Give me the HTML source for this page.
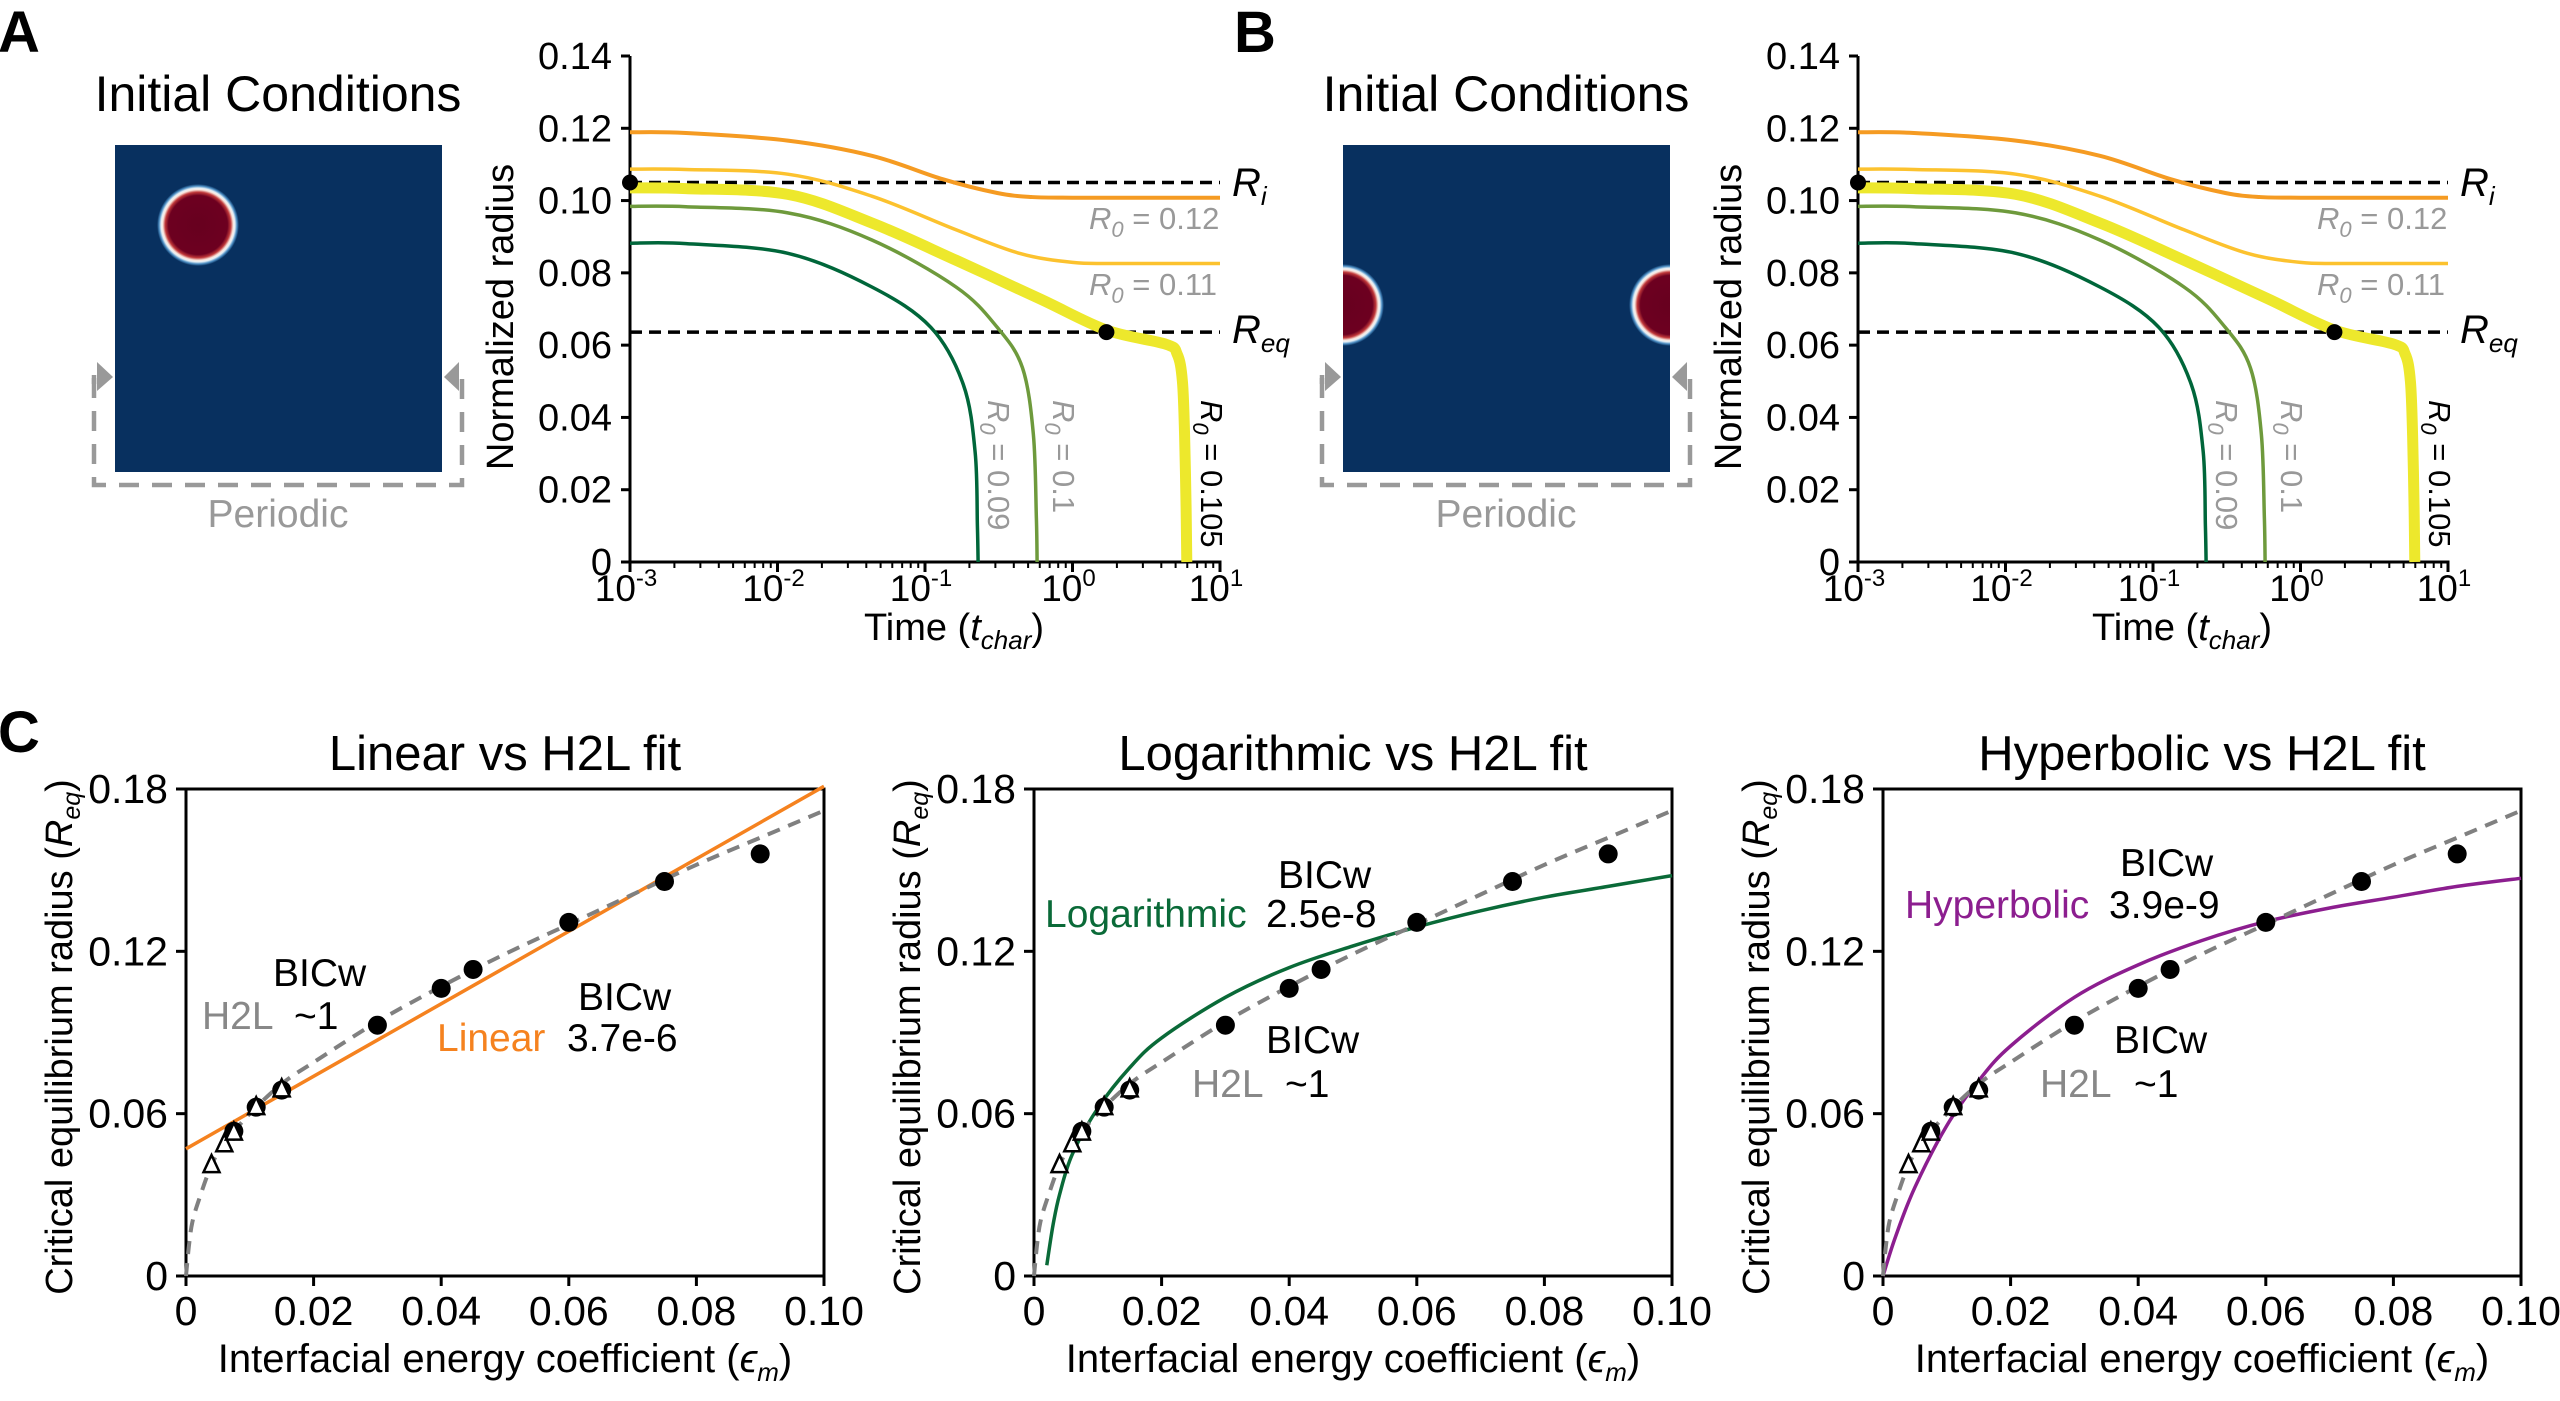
<!DOCTYPE html>
<html><head><meta charset="utf-8"><style>
html,body{margin:0;padding:0;background:#fff;}
svg{display:block;font-family:"Liberation Sans",Arial,sans-serif;}
</style></head><body>
<svg id="fig" width="2560" height="1401" viewBox="0 0 2560 1401" xmlns="http://www.w3.org/2000/svg">
<defs>
<radialGradient id="blob" cx="0.5" cy="0.5" r="0.5">
<stop offset="0" stop-color="#67001f"/>
<stop offset="0.72" stop-color="#6d0020"/>
<stop offset="0.8" stop-color="#c0383a"/>
<stop offset="0.86" stop-color="#fbe6dc"/>
<stop offset="0.9" stop-color="#e6f0f7"/>
<stop offset="0.95" stop-color="#4a8cc2"/>
<stop offset="1" stop-color="#08305f"/>
</radialGradient>
</defs>
<g id="root"></g>
</svg>
<script>
// ---------- Panel A/B data ----------
const yTicksA = [0, 0.02, 0.04, 0.06, 0.08, 0.10, 0.12, 0.14];
const yTickLabelsA = ["0", "0.02", "0.04", "0.06", "0.08", "0.10", "0.12", "0.14"];
const xDecadesA = [-3, -2, -1, 0, 1];
const riValue = 0.105;
const reqValue = 0.0636;
const reqDotLogT = 0.23;
const orangeT = [-3, -2.62, -1.93, -1.36, -0.88, -0.51, -0.28, 0, 1];
const orangeR = [0.1189, 0.1187, 0.1166, 0.1124, 0.1059, 0.1021, 0.1010, 0.1008, 0.1008];
const lightT = [-3, -2.62, -1.93, -1.36, -0.79, -0.36, 0, 0.3, 1];
const lightR = [0.1087, 0.1086, 0.1073, 0.1012, 0.0919, 0.0854, 0.0829, 0.0826, 0.0826];
const thickT = [-3, -2.62, -1.93, -1.36, -0.79, -0.22, 0.23, 0.63, 0.71, 0.745, 0.76, 0.77, 0.775];
const thickR = [0.1035, 0.1033, 0.1017, 0.0938, 0.0835, 0.0728, 0.0642, 0.0603, 0.0575, 0.050, 0.035, 0.015, 0];
const oliveT = [-3, -2.62, -1.93, -1.36, -0.79, -0.51, -0.34, -0.265, -0.245, -0.24];
const oliveR = [0.0984, 0.0983, 0.0966, 0.0891, 0.0761, 0.0649, 0.0538, 0.0352, 0.012, 0];
const greenT = [-3, -2.62, -1.93, -1.36, -0.96, -0.74, -0.66, -0.645, -0.64];
const greenR = [0.0882, 0.0881, 0.0854, 0.0761, 0.0649, 0.0491, 0.0305, 0.010, 0];

// ---------- Panel C data ----------
const yTicksC = [0, 0.06, 0.12, 0.18];
const yTickLabelsC = ["0", "0.06", "0.12", "0.18"];
const xTicksC = [0, 0.02, 0.04, 0.06, 0.08, 0.10];
const xTickLabelsC = ["0", "0.02", "0.04", "0.06", "0.08", "0.10"];
const circEps = [0.0075, 0.011, 0.015, 0.03, 0.04, 0.045, 0.06, 0.075, 0.09];
const circR = [0.0535, 0.0624, 0.0687, 0.0927, 0.1063, 0.1133, 0.1307, 0.1458, 0.156];
const triEps = [0.004, 0.006, 0.0075, 0.011, 0.015];
const triR = [0.041, 0.0487, 0.053, 0.0624, 0.069];
const h2lEps = [0, 0.0005, 0.001, 0.002, 0.004, 0.006, 0.01, 0.015, 0.02, 0.03, 0.04, 0.05, 0.06, 0.07, 0.08, 0.09, 0.1];
const h2lR = [0, 0.012, 0.02, 0.028, 0.041, 0.049, 0.06, 0.071, 0.079, 0.094, 0.107, 0.119, 0.13, 0.141, 0.152, 0.162, 0.172];
const linEps = [0, 0.1];
const linR = [0.047, 0.181];
const logEps = [0.002, 0.003, 0.004, 0.006, 0.01, 0.015, 0.02, 0.03, 0.04, 0.05, 0.06, 0.07, 0.08, 0.09, 0.1];
const logR = [0.004, 0.019, 0.030, 0.045, 0.062, 0.077, 0.088, 0.103, 0.114, 0.122, 0.129, 0.135, 0.140, 0.144, 0.148];
const hypEps = [0, 0.002, 0.005, 0.01, 0.015, 0.02, 0.03, 0.04, 0.05, 0.06, 0.07, 0.08, 0.09, 0.1];
const hypR = [0, 0.0148, 0.0328, 0.0556, 0.0722, 0.085, 0.103, 0.115, 0.124, 0.131, 0.136, 0.140, 0.144, 0.147];

const NS = "http://www.w3.org/2000/svg";
const root = document.getElementById("root");
function mk(tag, attrs, parent, txt) {
  const e = document.createElementNS(NS, tag);
  for (const k in attrs) e.setAttribute(k, attrs[k]);
  if (txt !== undefined) e.textContent = txt;
  (parent || root).appendChild(e);
  return e;
}
function smoothPath(pts) {
  let d = "M" + pts[0][0].toFixed(1) + "," + pts[0][1].toFixed(1);
  for (let i = 0; i < pts.length - 1; i++) {
    const p0 = pts[Math.max(0, i - 1)], p1 = pts[i], p2 = pts[i + 1], p3 = pts[Math.min(pts.length - 1, i + 2)];
    const c1x = p1[0] + (p2[0] - p0[0]) / 6, c1y = p1[1] + (p2[1] - p0[1]) / 6;
    const c2x = p2[0] - (p3[0] - p1[0]) / 6, c2y = p2[1] - (p3[1] - p1[1]) / 6;
    d += " C" + c1x.toFixed(1) + "," + c1y.toFixed(1) + " " + c2x.toFixed(1) + "," + c2y.toFixed(1) + " " + p2[0].toFixed(1) + "," + p2[1].toFixed(1);
  }
  return d;
}

// ---------- Panels A & B ----------
function panelTop(ox, letter, mode) {
  const g = mk("g", {});
  
  
  const L = mk("text", {x: ox + (letter === "A" ? -2 : 6), y: 52, "font-size": 58, "font-weight": "bold"}, g, letter);
  
  
  const t = mk("text", {x: ox + 278, y: 111, "font-size": 50, "text-anchor": "middle"}, g, "Initial Conditions");
  
  
  const ix = ox + 115, iy = 145, iw = 327;
  const img = mk("g", {}, g);
  
  
  mk("clipPath", {id: "clip" + letter}, img);
  mk("rect", {x: ix, y: iy, width: iw, height: iw}, img.lastChild);
  mk("rect", {x: ix, y: iy, width: iw, height: iw, fill: "#08305f"}, img);
  const cg = mk("g", {"clip-path": "url(#clip" + letter + ")"}, img);
  if (mode === 0) {
    mk("circle", {cx: ix + 83, cy: 225, r: 41, fill: "url(#blob)"}, cg);
  } else {
    mk("circle", {cx: ix, cy: 305, r: 41, fill: "url(#blob)"}, cg);
    mk("circle", {cx: ix + iw, cy: 305, r: 41, fill: "url(#blob)"}, cg);
  }
  const pb = mk("g", {}, g);
  
  
  const bl = ix - 21, br = ix + iw + 20, bt = 378, bb = 485;
  mk("path", {d: `M${bl},${bt} L${bl},${bb} L${br},${bb} L${br},${bt}`, fill: "none", stroke: "#999", "stroke-width": 4.5, "stroke-dasharray": "20,13"}, pb);
  mk("path", {d: `M${bl},${bt-3} L${bl},${bt+6}`, stroke: "#999", "stroke-width": 4.5}, pb);
  mk("polygon", {points: `${bl+3},${bt-16} ${bl+3},${bt+13} ${ix-2},${bt-1}`, fill: "#999"}, pb);
  mk("polygon", {points: `${br-3},${bt-16} ${br-3},${bt+13} ${ix+iw+2},${bt-1}`, fill: "#999"}, pb);
  const pt = mk("text", {x: ox + 278, y: 527, "font-size": 39, fill: "#999", "text-anchor": "middle"}, g, "Periodic");
  
  

  const X = lt => ox + 630 + (lt + 3) * 147.5;
  const Y = v => 562 - v / 0.14 * 506;
  const ax = mk("g", {}, g);
  
  
  mk("line", {x1: X(-3), y1: Y(0.14), x2: X(-3), y2: Y(0) + 1.5, stroke: "#000", "stroke-width": 3}, ax);
  mk("line", {x1: X(-3) - 1.5, y1: Y(0), x2: X(1) + 1.5, y2: Y(0), stroke: "#000", "stroke-width": 3}, ax);
  yTicksA.forEach((v, i) => {
    mk("line", {x1: X(-3) - 9, y1: Y(v), x2: X(-3), y2: Y(v), stroke: "#000", "stroke-width": 3}, ax);
    const tl = mk("text", {x: X(-3) - 18, y: Y(v) + 13, "font-size": 38, "text-anchor": "end"}, ax, yTickLabelsA[i]);
    
    
  });
  xDecadesA.forEach(d => {
    mk("line", {x1: X(d), y1: Y(0), x2: X(d), y2: Y(0) + 10, stroke: "#000", "stroke-width": 3}, ax);
    if (d < 1) for (let k = 2; k < 10; k++) {
      const xx = X(d + Math.log10(k));
      mk("line", {x1: xx, y1: Y(0), x2: xx, y2: Y(0) + 6, stroke: "#000", "stroke-width": 2}, ax);
    }
    const tl = mk("text", {x: X(d) - 4, y: 601, "font-size": 37, "text-anchor": "middle"}, ax);
    
    
    mk("tspan", {}, tl, "10");
    mk("tspan", {dy: -15, "font-size": 24}, tl, String(d));
  });
  const yl = mk("text", {x: ox + 513, y: 317, "font-size": 38, "text-anchor": "middle", transform: `rotate(-90 ${ox+513} 317)`}, ax, "Normalized radius");
  
  
  const xl = mk("text", {x: ox + 954, y: 640, "font-size": 38, "text-anchor": "middle"}, ax);
  
  
  mk("tspan", {}, xl, "Time (");
  mk("tspan", {"font-style": "italic"}, xl, "t");
  mk("tspan", {"font-style": "italic", "font-size": 26, dy: 9}, xl, "char");
  mk("tspan", {dy: -9}, xl, ")");

  [riValue, reqValue].forEach((v, i) => {
    const ln = mk("line", {x1: X(-3), y1: Y(v), x2: X(1), y2: Y(v), stroke: "#000", "stroke-width": 3.5, "stroke-dasharray": "12,7"}, g);
    
    
  });
  const series = [
    [greenT, greenR, "#00663a", 3.5, "curve-r0-0.09"],
    [oliveT, oliveR, "#6e9a3c", 3.5, "curve-r0-0.1"],
    [lightT, lightR, "#fcc22e", 3.5, "curve-r0-0.11"],
    [orangeT, orangeR, "#f59b22", 4, "curve-r0-0.12"],
    [thickT, thickR, "#ede82c", 11, "curve-r0-0.105"]
  ];
  series.forEach(s => {
    const pts = s[0].map((t, i) => [X(t), Y(s[1][i])]);
    const p = mk("path", {d: smoothPath(pts), fill: "none", stroke: s[2], "stroke-width": s[3]}, g);
    
    
  });
  const d1 = mk("circle", {cx: X(-3), cy: Y(riValue), r: 8, fill: "#000"}, g);
  
  
  const d2 = mk("circle", {cx: X(reqDotLogT), cy: Y(reqValue), r: 8, fill: "#000"}, g);
  
  

  function rlab(x, y, val, color, rot, name) {
    const tt = mk("text", {x: x, y: y, "font-size": 31, fill: color}, g);
    if (rot) tt.setAttribute("transform", `rotate(90 ${x} ${y})`);
    
    
    mk("tspan", {"font-style": "italic"}, tt, "R");
    mk("tspan", {"font-style": "italic", "font-size": 22, dy: 8}, tt, "0");
    mk("tspan", {dy: -8}, tt, " = " + val);
  }
  rlab(ox + 1089, 229, "0.12", "#999", false, "label-r0-0.12");
  rlab(ox + 1089, 295, "0.11", "#999", false, "label-r0-0.11");
  rlab(ox + 988, 400, "0.09", "#999", true, "label-r0-0.09");
  rlab(ox + 1053, 400, "0.1", "#999", true, "label-r0-0.1");
  rlab(ox + 1201, 400, "0.105", "#000", true, "label-r0-0.105");
  const ri = mk("text", {x: ox + 1232, y: 196, "font-size": 40, "font-style": "italic"}, g);
  
  
  mk("tspan", {}, ri, "R");
  mk("tspan", {"font-size": 26, dy: 9}, ri, "i");
  const rq = mk("text", {x: ox + 1232, y: 343, "font-size": 40, "font-style": "italic"}, g);
  
  
  mk("tspan", {}, rq, "R");
  mk("tspan", {"font-size": 26, dy: 9}, rq, "eq");
}
panelTop(0, "A", 0);
panelTop(1228, "B", 1);

// ---------- Panel C ----------
const cLab = mk("text", {x: -2, y: 752, "font-size": 58, "font-weight": "bold"}, root, "C");



function panelC(ox, title, fitE, fitR, fitColor, fitName, ann) {
  const X = e => ox + 186 + e / 0.1 * 638;
  const Y = v => 1276 - v / 0.18 * 487;
  const g = mk("g", {});
  
  
  const tt = mk("text", {x: ox + 505, y: 770, "font-size": 49, "text-anchor": "middle"}, g, title);
  
  
  const fr = mk("rect", {x: X(0), y: Y(0.18), width: X(0.1) - X(0), height: Y(0) - Y(0.18), fill: "none", stroke: "#000", "stroke-width": 3}, g);
  
  
  yTicksC.forEach((v, i) => {
    mk("line", {x1: X(0) - 10, y1: Y(v), x2: X(0), y2: Y(v), stroke: "#000", "stroke-width": 3}, g);
    const tl = mk("text", {x: X(0) - 18, y: Y(v) + 14, "font-size": 41, "text-anchor": "end"}, g, yTickLabelsC[i]);
    
    
  });
  xTicksC.forEach((v, i) => {
    mk("line", {x1: X(v), y1: Y(0), x2: X(v), y2: Y(0) + 10, stroke: "#000", "stroke-width": 3}, g);
    const tl = mk("text", {x: X(v), y: 1325, "font-size": 41, "text-anchor": "middle"}, g, xTickLabelsC[i]);
    
    
  });
  const yl = mk("text", {x: ox + 72, y: 1037, "font-size": 38, "text-anchor": "middle", transform: `rotate(-90 ${ox+72} 1037)`}, g);
  
  
  mk("tspan", {}, yl, "Critical equilibrium radius (");
  mk("tspan", {"font-style": "italic"}, yl, "R");
  mk("tspan", {"font-style": "italic", "font-size": 25, dy: 8}, yl, "eq");
  mk("tspan", {dy: -8}, yl, ")");
  const xl = mk("text", {x: ox + 505, y: 1372, "font-size": 40, "text-anchor": "middle"}, g);
  
  
  mk("tspan", {}, xl, "Interfacial energy coefficient (");
  mk("tspan", {"font-style": "italic"}, xl, "ϵ");
  mk("tspan", {"font-style": "italic", "font-size": 26, dy: 9}, xl, "m");
  mk("tspan", {dy: -9}, xl, ")");

  const fp = mk("path", {d: smoothPath(fitE.map((e, i) => [X(e), Y(fitR[i])])), fill: "none", stroke: fitColor, "stroke-width": 3.5}, g);
  
  
  const hp = mk("path", {d: smoothPath(h2lEps.map((e, i) => [X(e), Y(h2lR[i])])), fill: "none", stroke: "#808080", "stroke-width": 4, "stroke-dasharray": "13,9"}, g);
  
  
  circEps.forEach((e, i) => {
    const c = mk("circle", {cx: X(e), cy: Y(circR[i]), r: 9.5, fill: "#000"}, g);
    
    
  });
  triEps.forEach((e, i) => {
    const x = X(e), y = Y(triR[i]);
    const t = mk("polygon", {points: `${x},${y-10} ${x-8},${y+7} ${x+8},${y+7}`, fill: "#fff", stroke: "#000", "stroke-width": 2.5}, g);
    
    
  });
  ann.forEach(a => {
    const t = mk("text", {x: ox + a[0], y: a[1], "font-size": 39, fill: a[3]}, g, a[2]);
    
    
  });
}
panelC(0, "Linear vs H2L fit", linEps, linR, "#f5821f", "Linear", [
  [273, 986, "BICw", "#000", "h2l-bicw-label"],
  [202, 1029, "H2L", "#888", "h2l-label"],
  [294, 1029, "~1", "#000", "h2l-bicw-value"],
  [578, 1010, "BICw", "#000", "fit-bicw-label"],
  [437, 1051, "Linear", "#f5821f", "fit-label"],
  [567, 1051, "3.7e-6", "#000", "fit-bicw-value"]
]);
panelC(848, "Logarithmic vs H2L fit", logEps, logR, "#0a6a38", "Logarithmic", [
  [1278 - 848, 888, "BICw", "#000", "fit-bicw-label"],
  [1045 - 848, 927, "Logarithmic", "#0a6a38", "fit-label"],
  [1266 - 848, 927, "2.5e-8", "#000", "fit-bicw-value"],
  [1266 - 848, 1053, "BICw", "#000", "h2l-bicw-label"],
  [1192 - 848, 1097, "H2L", "#888", "h2l-label"],
  [1285 - 848, 1097, "~1", "#000", "h2l-bicw-value"]
]);
panelC(1697, "Hyperbolic vs H2L fit", hypEps, hypR, "#8c1e8f", "Hyperbolic", [
  [2120 - 1697, 876, "BICw", "#000", "fit-bicw-label"],
  [1905 - 1697, 918, "Hyperbolic", "#8c1e8f", "fit-label"],
  [2109 - 1697, 918, "3.9e-9", "#000", "fit-bicw-value"],
  [2114 - 1697, 1053, "BICw", "#000", "h2l-bicw-label"],
  [2040 - 1697, 1097, "H2L", "#888", "h2l-label"],
  [2134 - 1697, 1097, "~1", "#000", "h2l-bicw-value"]
]);
</script>
</body></html>
